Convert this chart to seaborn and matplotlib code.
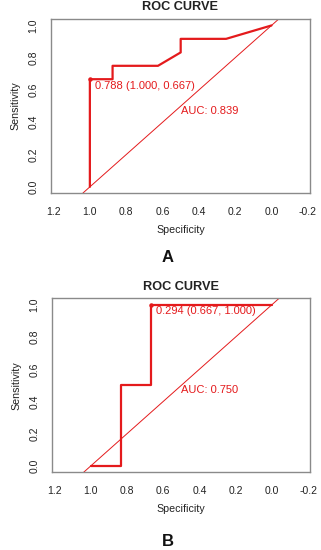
import matplotlib
matplotlib.use("Agg")
import matplotlib.pyplot as plt
import seaborn as sns
import pandas as pd

# ---- data ----
spec_a = [1.0, 1.0, 0.875, 0.875, 0.625, 0.5, 0.5, 0.25, 0.0]
sens_a = [0.0, 0.667, 0.667, 0.75, 0.75, 0.833, 0.917, 0.917, 1.0]
thr_a = (1.000, 0.667)
thr_label_a = "0.788 (1.000, 0.667)"
auc_a = "AUC: 0.839"

spec_b = [1.0, 0.833, 0.833, 0.667, 0.667, 0.0]
sens_b = [0.0, 0.0, 0.5, 0.5, 1.0, 1.0]
thr_b = (0.667, 1.000)
thr_label_b = "0.294 (0.667, 1.000)"
auc_b = "AUC: 0.750"

xticks = [1.2, 1.0, 0.8, 0.6, 0.4, 0.2, 0.0, -0.2]
yticks = [0.0, 0.2, 0.4, 0.6, 0.8, 1.0]
panel_letters = ["A", "B"]

sns.set_style("white")
plt.rcParams['font.family'] = ['Liberation Sans', 'DejaVu Sans']

RED = "#e41a1c"
GREY = "#8a8a8a"
W, H = 321, 550
fig = plt.figure(figsize=(W / 100, H / 100), dpi=100)

# axes boxes in pixel coords: left, top, right, bottom
boxes = [(51, 19, 310, 193), (51.7, 298.3, 310.3, 472.3)]
title_y = [7.5, 286.7]
letter_y = [258, 541.7]

panels = [
    (spec_a, sens_a, thr_a, thr_label_a, auc_a),
    (spec_b, sens_b, thr_b, thr_label_b, auc_b),
]

for i, (spec, sens, thr, thr_label, auc) in enumerate(panels):
    l, t, r, b = boxes[i]
    ax = fig.add_axes([l / W, 1 - b / H, (r - l) / W, (b - t) / H])
    df = pd.DataFrame({"Specificity": spec, "Sensitivity": sens})
    sns.lineplot(data=df, x="Specificity", y="Sensitivity", sort=False,
                 estimator=None, color=RED, lw=1.6, ax=ax)
    ax.axline((1, 0), (0, 1), color=RED, lw=0.7)
    ax.plot([thr[0]], [thr[1]], "o", color=RED, ms=2.2)
    ax.annotate(thr_label, xy=thr, xytext=(5, -6.5), textcoords="offset pixels",
                ha="left", va="center", color=RED, fontsize=8.0)
    ax.text(0.5, 0.5, auc, ha="left", va="top", color=RED, fontsize=8.0)

    ax.set_xlim(1.214, -0.212)
    ax.set_ylim(-0.038, 1.04)
    ax.set_xticks(xticks)
    ax.set_xticklabels([f"{v:.1f}" for v in xticks])
    ax.set_yticks(yticks)
    ax.set_yticklabels([f"{v:.1f}" for v in yticks], rotation=90, va="center")
    ax.tick_params(axis="both", direction="out", length=4, width=0.8,
                   color=GREY, labelsize=7.5, labelcolor="#222222", pad=6)
    ax.tick_params(axis="y", pad=5)
    for s in ax.spines.values():
        s.set_color(GREY)
        s.set_linewidth(1.0)
    ax.set_xlabel("Specificity", fontsize=7.7, labelpad=5.5, color="#222222")
    ax.set_ylabel("Sensitivity", fontsize=7.7, labelpad=5.5, color="#222222")
    ax.grid(False)

    fig.text((l + r) / 2 / W, 1 - title_y[i] / H, "ROC CURVE", ha="center",
             va="center", fontsize=9.2, fontweight="bold", color="#222222")
    fig.text(168 / W, 1 - letter_y[i] / H, panel_letters[i], ha="center",
             va="center", fontsize=12, fontweight="bold", color="#111111")

fig.savefig("out.png", dpi=100, facecolor="white")
